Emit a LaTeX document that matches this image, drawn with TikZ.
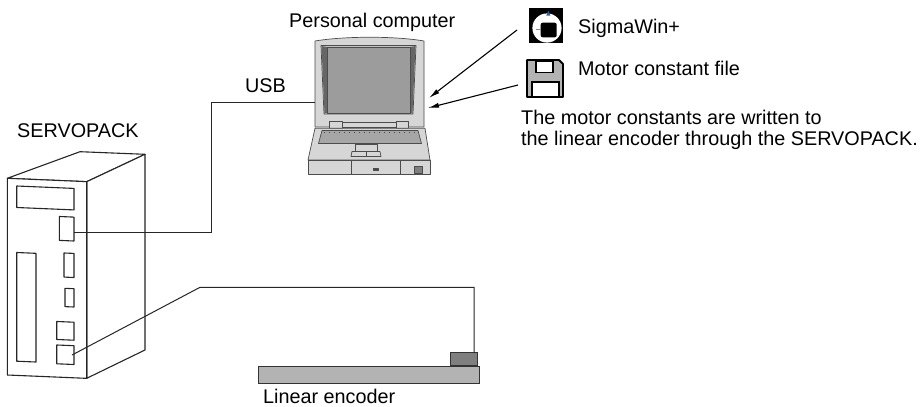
\documentclass[tikz,border=0pt]{standalone}
\usepackage{fontspec}
\setmainfont{Liberation Sans}
\usetikzlibrary{arrows.meta}
\definecolor{body}{HTML}{D6D6D6}
\definecolor{screen}{HTML}{9C9C9C}
\definecolor{keys}{HTML}{A6A6A6}
\definecolor{scalebar}{HTML}{B3B3B3}
\definecolor{readhead}{HTML}{7F7F7F}
\definecolor{tick}{HTML}{2F5FB0}
\tikzset{
  lbl/.style={font=\fontsize{19.8}{21}\selectfont, inner sep=0pt, anchor=base west},
  outline/.style={draw=black!85, line width=1.1pt, line join=round},
  cable/.style={draw=black!85, line width=1pt},
  pcline/.style={draw=black!70, line width=0.7pt, line join=round},
  feed/.style={draw=black, line width=1.1pt, -{Latex[length=11pt,width=5pt]}},
}
\begin{document}
\begin{tikzpicture}[x=1pt,y=-1pt]
\useasboundingbox[fill=white] (0,0) rectangle (922,407);

% ---------- labels ----------
\node[lbl] (pclabel) at (289,27.3) {Personal computer};
\node[lbl] (svlabel) at (17,137) {SERVOPACK};
\node[lbl] (usblabel) at (245,92.5) {USB};
\node[lbl] (swlabel) at (578,33) {SigmaWin+};
\node[lbl] (mclabel) at (578,75) {Motor constant file};
\node[lbl] (note1) at (521,124.5) {The motor constants are written to};
\node[lbl] (note2) at (521,145.5) {the linear encoder through the SERVOPACK.};
\node[lbl] (enclabel) at (263,403) {Linear encoder};

% ---------- SERVOPACK ----------
\draw[outline, fill=white] (7.3,178.3) -- (80,151.7) -- (145,154.3) -- (86.7,181.7) -- cycle;
\draw[outline, fill=white] (86.7,181.7) -- (145,154.3) -- (145,350) -- (86.7,378.3) -- cycle;
\begin{scope}[yslant=-0.042]
  \draw[outline, fill=white] (7.3,178) rectangle (86.7,374.7);
  \draw[outline] (16.7,185.3) rectangle (74,206.8);   % display
  \draw[outline] (16.7,251.8) rectangle (36,360.5);   % terminal strip
  \draw[outline] (59.3,214) rectangle (74,237.9);     % USB connector
  \draw[outline] (64,250.3) rectangle (74,274.4);
  \draw[outline] (65,285.6) rectangle (74,303.9);
  \draw[outline] (56.7,319.1) rectangle (74,337.1);
  \draw[outline] (56.7,342.6) rectangle (74,361.4);   % encoder connector
  \coordinate (usbport) at (74,228.9);
  \coordinate (encport) at (72,352);
\end{scope}

% ---------- personal computer ----------
% lid
\draw[pcline, fill=body] (315,127) -- (315,41) .. controls (345,36) and (395,36) .. (424,41) -- (424,127) -- cycle;
\draw[pcline, fill=body!92!black] (321,45.5) -- (416,45.5) -- (413,114) -- (324,114) -- cycle;
% dark bevel slivers beside the screen
\fill[black!60] (321.5,46) .. controls (323.5,80) .. (324.5,113) -- (327,113) -- (327,47) -- cycle;
\fill[black!60] (415.5,46) .. controls (413.5,80) .. (412.5,113) -- (410,113) -- (410,47) -- cycle;
\draw[pcline, fill=screen] (327,47) rectangle (410,113);
% hinges
\draw[pcline, fill=body] (342,122.5) rectangle (396,127.5);
\draw[pcline, fill=body] (329,121.5) rectangle (342,128.3);
\draw[pcline, fill=body] (396,121.5) rectangle (408.5,128.3);
% base
\draw[pcline, fill=body] (315,128.3) -- (425,128.3) -- (430,160) -- (308,160) -- cycle;
\draw[pcline, fill=keys] (322,130.5) -- (418,130.5) -- (421.5,143.5) -- (318.5,143.5) -- cycle;
\draw[black!70, line width=0.8pt, dash pattern=on 1pt off 4pt] (324,132.3) -- (417,132.3);
% touch pad and buttons
\draw[pcline, fill=body] (355.5,144) rectangle (377,151.5);
\draw[pcline, fill=body] (352,151.5) -- (380,151.5) -- (381,156.5) -- (351,156.5) -- cycle;
\draw[pcline] (366,151.5) -- (366,156.5);
% front band
\draw[pcline, fill=body] (308,160) rectangle (430,174);
\draw[pcline] (351.7,160) -- (351.7,174) (400,160) -- (400,174);
\draw[pcline, fill=black!70] (373,168) rectangle (378,170.3);
\draw[pcline, fill=readhead] (414,166.5) rectangle (422,173);
\coordinate (pcport) at (315,102);
\coordinate (pcin1) at (429,98);
\coordinate (pcin2) at (428,108);

% ---------- SigmaWin+ icon ----------
\fill[black] (529,8) rectangle (563.3,43.3);
\fill[white] (547,28) circle[radius=14.6];
\fill[black, rounded corners=2pt] (540.7,22.7) rectangle (556.7,37.3);
\fill[tick] (548.3,10.5) -- (550.3,15.5) -- (546.3,15.5) -- cycle;
\draw[black!45, line width=1pt] (535.5,29.3) -- (540.7,29.3);
\coordinate (swtail) at (517,30);

% ---------- motor constant file icon ----------
\draw[black, line width=1.8pt, fill=scalebar, line join=round] (527,60) -- (559,60) -- (563,64) -- (563,97) -- (527,97) -- cycle;
\draw[black, line width=1.3pt, fill=white] (536,61.5) rectangle (553,72.5);
\draw[black, line width=1.3pt, fill=white] (532,82) rectangle (559,97);
\coordinate (mctail) at (518,85);

% ---------- linear encoder ----------
\node[draw=black!80, line width=0.8pt, fill=scalebar, inner sep=0pt, minimum width=221pt, minimum height=17pt, anchor=north west] (scale) at (258,366) {};
\node[draw=black!80, line width=0.8pt, fill=readhead, inner sep=0pt, minimum width=27pt, minimum height=13pt, anchor=south east] (head) at (478,366) {};
\coordinate (headport) at (474,353);
\coordinate (enccorner) at (200,287.3);

% ---------- cables and data flow ----------
\coordinate (usbcorner) at (211,102);
\draw[cable] (usbport) -| (usbcorner) -- (pcport);
\draw[cable] (encport) -- (enccorner) -| (headport);
\draw[feed] (swtail) -- (pcin1);
\draw[feed] (mctail) -- (pcin2);
\end{tikzpicture}
\end{document}
